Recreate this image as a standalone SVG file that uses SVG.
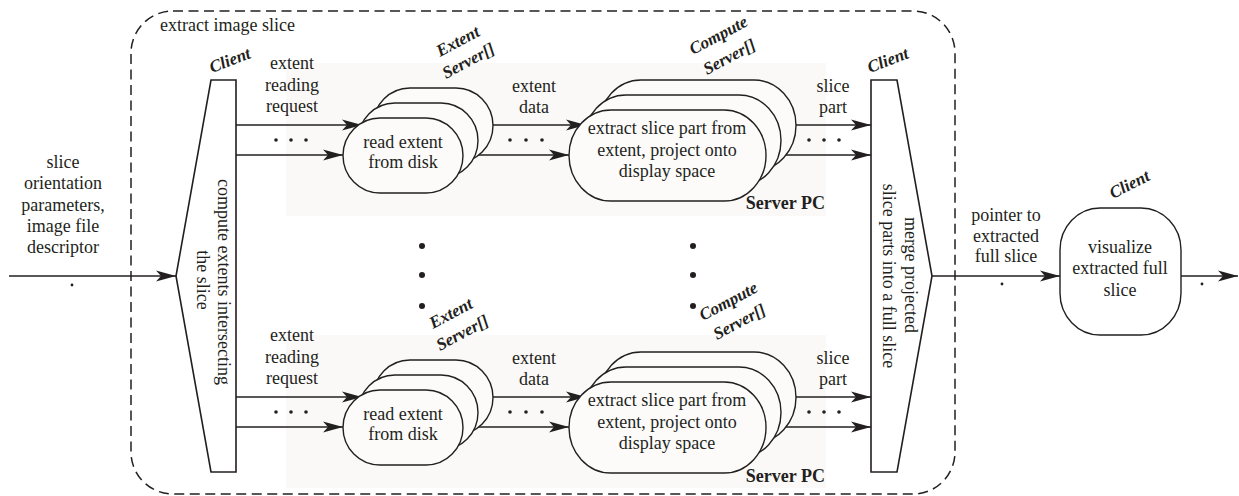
<svg xmlns="http://www.w3.org/2000/svg" width="1239" height="496" viewBox="0 0 1239 496">
<defs>
<style>
.t{font-family:"Liberation Serif","Times New Roman",serif;font-size:18px;fill:#231f20;text-anchor:middle}
.tl{font-family:"Liberation Serif","Times New Roman",serif;font-size:18px;fill:#231f20;text-anchor:start}
.bi{font-family:"Liberation Serif","Times New Roman",serif;font-size:17px;font-weight:bold;font-style:italic;fill:#231f20}
.bd{font-family:"Liberation Serif","Times New Roman",serif;font-size:18px;font-weight:bold;fill:#231f20;text-anchor:end}
.ln{stroke:#231f20;stroke-width:1.3;fill:none}
.shape{stroke:#231f20;stroke-width:1.4;fill:#fcfbfa}
.bar{stroke:#231f20;stroke-width:1.6;fill:#ffffff;stroke-linejoin:miter}
.dot{fill:#231f20}
.bg{fill:#fbf9f7}
</style>
<marker id="ah" markerUnits="userSpaceOnUse" markerWidth="21" markerHeight="12" refX="20" refY="6" orient="auto">
<path d="M0,0.5 L20,6 L0,11.5 L5,6 z" fill="#231f20"/>
</marker>
</defs>
<rect width="1239" height="496" fill="#ffffff"/>
<g id="server-pc-backgrounds">
<rect class="bg" x="286" y="63" width="540" height="153"/>
<rect class="bg" x="286" y="335" width="540" height="153"/>
<text class="bd" x="825" y="209">Server PC</text>
<text class="bd" x="825" y="482">Server PC</text>
</g>
<g id="extract-image-slice">
<rect x="131" y="11" width="824" height="483" rx="42" ry="42" fill="none" stroke="#231f20" stroke-width="1.5" stroke-dasharray="10 5.5"/>
<text class="tl" x="160" y="31">extract image slice</text>
</g>
<g id="connectors">
<line class="ln" x1="9" y1="276" x2="176" y2="276" marker-end="url(#ah)"/>
<circle class="dot" cx="72" cy="285" r="1.4"/>
<text class="t" x="63" y="168">slice</text>
<text class="t" x="63" y="189">orientation</text>
<text class="t" x="63" y="211">parameters,</text>
<text class="t" x="63" y="232">image file</text>
<text class="t" x="63" y="253">descriptor</text>
<!-- top section -->
<line class="ln" x1="236" y1="125" x2="362" y2="125" marker-end="url(#ah)"/>
<line class="ln" x1="236" y1="155" x2="343" y2="155" marker-end="url(#ah)"/>
<circle class="dot" cx="276" cy="140" r="1.8"/><circle class="dot" cx="291" cy="140" r="1.8"/><circle class="dot" cx="306" cy="140" r="1.8"/>
<text class="t" x="292" y="69">extent</text>
<text class="t" x="292" y="90.5">reading</text>
<text class="t" x="292" y="112">request</text>
<line class="ln" x1="493" y1="125" x2="586" y2="125" marker-end="url(#ah)"/>
<line class="ln" x1="463" y1="155" x2="569" y2="155" marker-end="url(#ah)"/>
<circle class="dot" cx="510" cy="140" r="1.8"/><circle class="dot" cx="526" cy="140" r="1.8"/><circle class="dot" cx="542" cy="140" r="1.8"/>
<text class="t" x="534" y="92">extent</text>
<text class="t" x="534" y="113">data</text>
<line class="ln" x1="796" y1="125" x2="871" y2="125" marker-end="url(#ah)"/>
<line class="ln" x1="766" y1="155" x2="871" y2="155" marker-end="url(#ah)"/>
<circle class="dot" cx="809" cy="140" r="1.8"/><circle class="dot" cx="824" cy="140" r="1.8"/><circle class="dot" cx="839" cy="140" r="1.8"/>
<text class="t" x="833" y="92">slice</text>
<text class="t" x="833" y="113">part</text>
<!-- bottom section -->
<line class="ln" x1="236" y1="397" x2="362" y2="397" marker-end="url(#ah)"/>
<line class="ln" x1="236" y1="427" x2="343" y2="427" marker-end="url(#ah)"/>
<circle class="dot" cx="276" cy="412" r="1.8"/><circle class="dot" cx="291" cy="412" r="1.8"/><circle class="dot" cx="306" cy="412" r="1.8"/>
<text class="t" x="292" y="341">extent</text>
<text class="t" x="292" y="362.5">reading</text>
<text class="t" x="292" y="384">request</text>
<line class="ln" x1="493" y1="397" x2="586" y2="397" marker-end="url(#ah)"/>
<line class="ln" x1="463" y1="427" x2="569" y2="427" marker-end="url(#ah)"/>
<circle class="dot" cx="510" cy="412" r="1.8"/><circle class="dot" cx="526" cy="412" r="1.8"/><circle class="dot" cx="542" cy="412" r="1.8"/>
<text class="t" x="534" y="364">extent</text>
<text class="t" x="534" y="385">data</text>
<line class="ln" x1="796" y1="397" x2="871" y2="397" marker-end="url(#ah)"/>
<line class="ln" x1="766" y1="427" x2="871" y2="427" marker-end="url(#ah)"/>
<circle class="dot" cx="809" cy="412" r="1.8"/><circle class="dot" cx="824" cy="412" r="1.8"/><circle class="dot" cx="839" cy="412" r="1.8"/>
<text class="t" x="833" y="364">slice</text>
<text class="t" x="833" y="385">part</text>
<!-- vertical ellipses -->
<circle class="dot" cx="422" cy="246" r="3"/><circle class="dot" cx="422" cy="275" r="3"/><circle class="dot" cx="422" cy="306" r="3"/>
<circle class="dot" cx="693" cy="246" r="3"/><circle class="dot" cx="693" cy="275" r="3"/><circle class="dot" cx="693" cy="306" r="3"/>
<!-- output -->
<line class="ln" x1="932" y1="276" x2="1060" y2="276" marker-end="url(#ah)"/>
<circle class="dot" cx="1002" cy="284" r="1.4"/>
<text class="t" x="1006" y="221">pointer to</text>
<text class="t" x="1006" y="242">extracted</text>
<text class="t" x="1006" y="262">full slice</text>
<line class="ln" x1="1181" y1="276" x2="1238" y2="276" marker-end="url(#ah)"/>
<circle class="dot" cx="1202" cy="284" r="1.4"/>
</g>
<g id="client-compute-extents">
<polygon class="bar" points="211,80 236,80 236,472 211,472 176,276"/>
<text class="t" transform="translate(217.5,282) rotate(90)">compute extents intersecting</text>
<text class="t" transform="translate(197,280) rotate(90)">the slice</text>
<text class="bi" transform="translate(212,73) rotate(-21)">Client</text>
</g>
<g id="extent-server-top">
<rect class="shape" x="373" y="88" width="120" height="75" rx="37" ry="37.5"/>
<rect class="shape" x="358" y="103" width="120" height="75" rx="37" ry="37.5"/>
<rect class="shape" x="343" y="118" width="120" height="75" rx="37" ry="37.5"/>
<text class="t" x="403" y="148">read extent</text>
<text class="t" x="403" y="168">from disk</text>
<text class="bi" transform="translate(440,57) rotate(-28)">Extent</text>
<text class="bi" transform="translate(446,79) rotate(-28)">Server[]</text>
</g>
<g id="compute-server-top">
<rect class="shape" x="599" y="80" width="197" height="91" rx="42" ry="45.5"/>
<rect class="shape" x="584" y="95" width="197" height="91" rx="42" ry="45.5"/>
<rect class="shape" x="569" y="110" width="197" height="91" rx="42" ry="45.5"/>
<text class="t" x="667" y="134">extract slice part from</text>
<text class="t" x="667" y="156">extent, project onto</text>
<text class="t" x="667" y="177">display space</text>
<text class="bi" transform="translate(693,55) rotate(-28)">Compute</text>
<text class="bi" transform="translate(707,75) rotate(-28)">Server[]</text>
</g>
<g id="extent-server-bottom">
<rect class="shape" x="373" y="360" width="120" height="75" rx="37" ry="37.5"/>
<rect class="shape" x="358" y="375" width="120" height="75" rx="37" ry="37.5"/>
<rect class="shape" x="343" y="390" width="120" height="75" rx="37" ry="37.5"/>
<text class="t" x="403" y="420">read extent</text>
<text class="t" x="403" y="440">from disk</text>
<text class="bi" transform="translate(433,329) rotate(-28)">Extent</text>
<text class="bi" transform="translate(440,351) rotate(-28)">Server[]</text>
</g>
<g id="compute-server-bottom">
<rect class="shape" x="599" y="352" width="197" height="91" rx="42" ry="45.5"/>
<rect class="shape" x="584" y="367" width="197" height="91" rx="42" ry="45.5"/>
<rect class="shape" x="569" y="382" width="197" height="91" rx="42" ry="45.5"/>
<text class="t" x="667" y="406">extract slice part from</text>
<text class="t" x="667" y="428">extent, project onto</text>
<text class="t" x="667" y="449">display space</text>
<text class="bi" transform="translate(703,321) rotate(-28)">Compute</text>
<text class="bi" transform="translate(717,340) rotate(-28)">Server[]</text>
</g>
<g id="client-merge">
<polygon class="bar" points="871,80 897,80 932,276 897,472 871,472"/>
<text class="t" transform="translate(904.5,275) rotate(90)">merge projected</text>
<text class="t" transform="translate(882.5,276) rotate(90)">slice parts into a full slice</text>
<text class="bi" transform="translate(870,73) rotate(-21)">Client</text>
</g>
<g id="client-visualize">
<rect x="1060" y="208" width="121" height="127" rx="40" ry="42" fill="#ffffff" stroke="#231f20" stroke-width="1.4"/>
<text class="t" x="1120" y="253">visualize</text>
<text class="t" x="1120" y="274">extracted full</text>
<text class="t" x="1120" y="296">slice</text>
<text class="bi" transform="translate(1113,199) rotate(-27)">Client</text>
</g>
</svg>
